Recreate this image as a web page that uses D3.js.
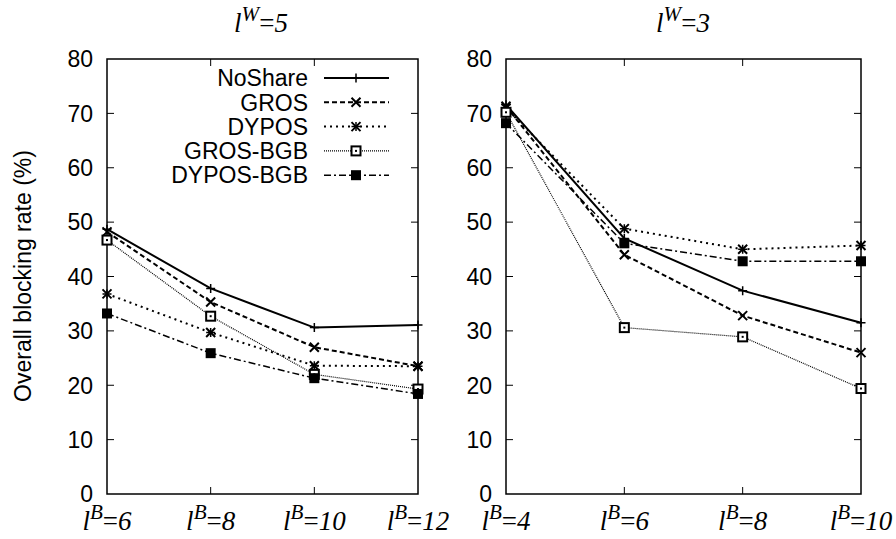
<!DOCTYPE html>
<html>
<head>
<meta charset="utf-8">
<script src="https://cdn.jsdelivr.net/npm/d3@7"></script>
<style>
  body { margin: 0; background: #fff; }
  svg { display: block; }
</style>
</head>
<body>
<script>
// series names, in legend order
const seriesNames = ['NoShare', 'GROS', 'DYPOS', 'GROS-BGB', 'DYPOS-BGB']

// left panel, l^W=5
const xLeft = [6, 8, 10, 12]
const noShareLeft = [48.7, 37.8, 30.6, 31.1]
const grosLeft = [48.2, 35.3, 27.0, 23.5]
const dyposLeft = [36.8, 29.7, 23.6, 23.5]
const grosBgbLeft = [46.7, 32.7, 22.0, 19.3]
const dyposBgbLeft = [33.2, 25.9, 21.3, 18.4]

// right panel, l^W=3
const xRight = [4, 6, 8, 10]
const noShareRight = [71.6, 47.0, 37.4, 31.5]
const grosRight = [71.3, 44.0, 32.8, 26.0]
const dyposRight = [71.0, 48.8, 45.0, 45.7]
const grosBgbRight = [70.2, 30.6, 28.9, 19.4]
const dyposBgbRight = [68.2, 46.1, 42.8, 42.8]

const yTicks = [0, 10, 20, 30, 40, 50, 60, 70, 80]

// line style per series
const styles = {
  'NoShare': { dash: null, width: 2, marker: 'plus' },
  'GROS': { dash: '5,3', width: 2, marker: 'cross' },
  'DYPOS': { dash: '2,4', width: 2, marker: 'star' },
  'GROS-BGB': { dash: '1,1', width: 1.2, marker: 'box' },
  'DYPOS-BGB': { dash: '7,3,2,3', width: 1.5, marker: 'fbox' },
}

const panels = [
  { w: 5, xs: xLeft, left: 107, right: 418, titleX: 261,
    series: [noShareLeft, grosLeft, dyposLeft, grosBgbLeft, dyposBgbLeft], legend: true },
  { w: 3, xs: xRight, left: 506, right: 861, titleX: 683,
    series: [noShareRight, grosRight, dyposRight, grosBgbRight, dyposBgbRight], legend: false },
]

const plotTop = 59, plotBottom = 494
const sansFont = '"Liberation Sans", Arial, sans-serif'

const svg = d3.select('body').append('svg')
  .attr('width', 896)
  .attr('height', 539)

function drawMarker(g, type, cx, cy) {
  const s = 4.5
  const m = g.append('g').attr('transform', `translate(${cx},${cy})`)
  if (type === 'plus' || type === 'star') {
    m.append('path').attr('d', `M${-s},0H${s}M0,${-s}V${s}`)
      .attr('stroke', '#000').attr('stroke-width', 1.5)
  }
  if (type === 'cross' || type === 'star') {
    m.append('path').attr('d', `M${-s},${-s}L${s},${s}M${-s},${s}L${s},${-s}`)
      .attr('stroke', '#000').attr('stroke-width', 2)
  }
  if (type === 'box') {
    m.append('rect').attr('x', -4.5).attr('y', -4.5).attr('width', 9).attr('height', 9)
      .attr('fill', '#fff').attr('stroke', '#000').attr('stroke-width', 2)
    m.append('rect').attr('x', -1).attr('y', -1).attr('width', 2).attr('height', 2).attr('fill', '#000')
  }
  if (type === 'fbox') {
    m.append('rect').attr('x', -5).attr('y', -5).attr('width', 10).attr('height', 10).attr('fill', '#000')
  }
}

// "l^X=n" label in italic serif
function mathLabel(sel, sup, val, size) {
  sel.attr('font-family', '"Liberation Serif", "DejaVu Serif", serif')
    .attr('font-style', 'italic')
    .attr('font-size', size)
  sel.append('tspan').text('l')
  sel.append('tspan').attr('dy', -size * 0.4).attr('font-size', size * 0.78).text(sup)
  sel.append('tspan').attr('dy', size * 0.4).attr('font-style', 'normal').text('=')
  sel.append('tspan').text(val)
}

for (const p of panels) {
  const x = d3.scalePoint().domain(p.xs).range([p.left, p.right])
  const y = d3.scaleLinear().domain([0, 80]).range([plotBottom, plotTop])
  const g = svg.append('g')

  // y ticks (both sides) and labels
  const yAxis = g.append('g')
  yAxis.selectAll('path.ytick').data(yTicks.slice(1, -1)).enter().append('path')
    .attr('d', d => `M${p.left},${y(d)}h7M${p.right},${y(d)}h-7`)
    .attr('stroke', '#000').attr('stroke-width', 1)
  yAxis.selectAll('text').data(yTicks).enter().append('text')
    .attr('x', p.left - 14)
    .attr('y', d => y(d))
    .attr('dy', '0.36em')
    .attr('text-anchor', 'end')
    .attr('font-family', sansFont)
    .attr('font-size', 23)
    .text(d => d)

  // x ticks (top and bottom) and labels
  const xAxis = g.append('g')
  xAxis.selectAll('path').data(p.xs.slice(1, -1)).enter().append('path')
    .attr('d', d => `M${x(d)},${plotBottom}v-7M${x(d)},${plotTop}v7`)
    .attr('stroke', '#000').attr('stroke-width', 1)
  xAxis.selectAll('text').data(p.xs).enter().append('text')
    .attr('x', d => x(d))
    .attr('y', 530)
    .attr('text-anchor', 'middle')
    .each(function (d) { mathLabel(d3.select(this), 'B', d, 27) })

  // frame
  g.append('rect')
    .attr('x', p.left).attr('y', plotTop)
    .attr('width', p.right - p.left).attr('height', plotBottom - plotTop)
    .attr('fill', 'none').attr('stroke', '#000').attr('stroke-width', 1.5)

  // title
  g.append('text')
    .attr('x', p.titleX).attr('y', 32)
    .attr('text-anchor', 'middle')
    .call(t => mathLabel(t, 'W', p.w, 27))

  // lines
  const line = d3.line().x((d, i) => x(p.xs[i])).y(d => y(d))
  p.series.forEach((vals, si) => {
    const st = styles[seriesNames[si]]
    g.append('path')
      .datum(vals)
      .attr('d', line)
      .attr('fill', 'none')
      .attr('stroke', '#000')
      .attr('stroke-width', st.width)
      .attr('stroke-dasharray', st.dash)
    vals.forEach((v, i) => drawMarker(g, st.marker, x(p.xs[i]), y(v)))
  })

  // legend
  if (p.legend) {
    seriesNames.forEach((name, i) => {
      const st = styles[name]
      const ly = 78 + i * 24.3
      g.append('text')
        .attr('x', 308).attr('y', ly)
        .attr('dy', '0.36em')
        .attr('text-anchor', 'end')
        .attr('font-family', sansFont)
        .attr('font-size', 23)
        .text(name)
      g.append('path')
        .attr('d', `M324,${ly}H389`)
        .attr('stroke', '#000')
        .attr('stroke-width', st.width)
        .attr('stroke-dasharray', st.dash)
      drawMarker(g, st.marker, 356, ly)
    })
  }
}

// y axis title
svg.append('text')
  .attr('transform', 'translate(23,276) rotate(-90)')
  .attr('dy', '0.36em')
  .attr('text-anchor', 'middle')
  .attr('font-family', sansFont)
  .attr('font-size', 23)
  .text('Overall blocking rate (%)')
</script>
</body>
</html>
